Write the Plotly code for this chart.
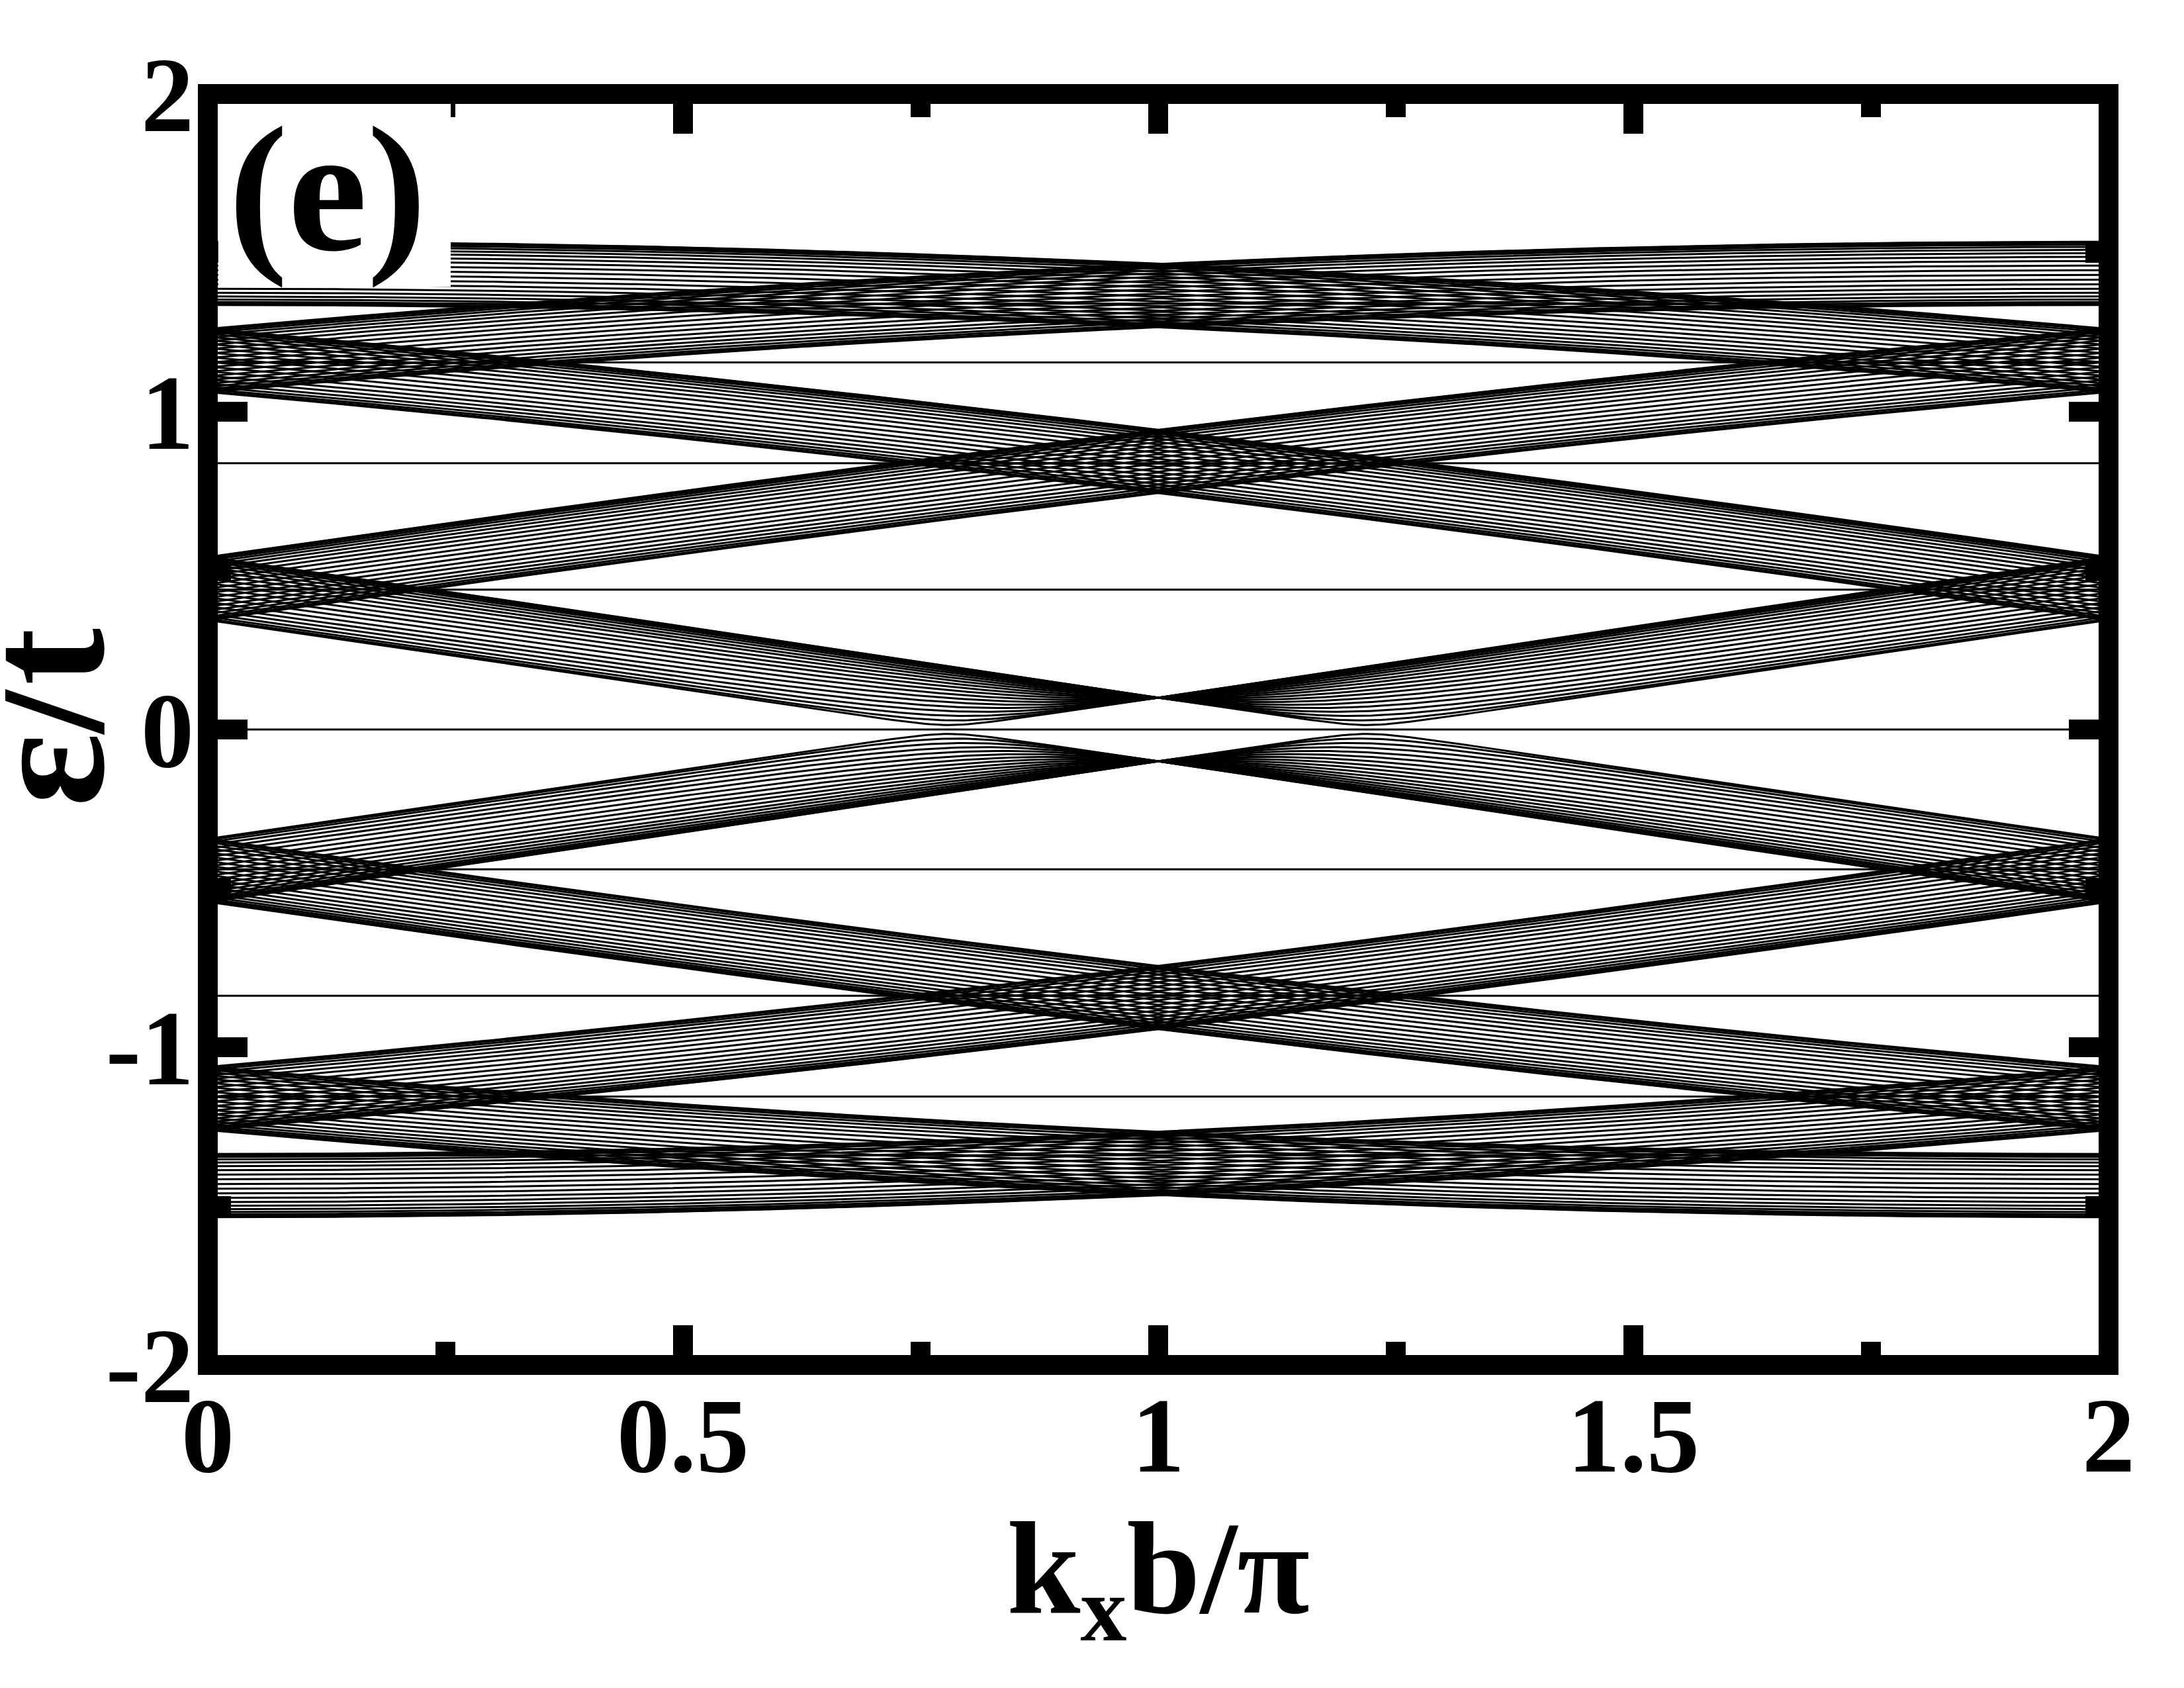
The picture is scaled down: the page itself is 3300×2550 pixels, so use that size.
import numpy as np
import plotly.graph_objects as go

# ---------------- values ----------------
flat_levels = [1.34, 1.155, 0.838, 0.44]          # dispersionless lines at +/- these energies
zero_level = [0.0]                                # dispersionless line at zero energy
band_center_k0 = [1.435, 1.161, 1.161, 0.443, 0.443]   # band centres at k_x b/pi = 0
band_center_k1 = [1.365, 1.365, 0.843, 0.843, 0.0]     # band centres at k_x b/pi = 1
band_halfwidth = [0.10, 0.10, 0.10, 0.10, 0.10]        # half spread of each family of lines
band_line_shift = [0.0, 0.5, 0.0, 0.5, 0.0]            # neighbouring families interleave
band_top_center = 1.435                                 # largest band centre (k_x b/pi = 0)
lines_per_band = 21                                     # lines counted in one family
closest_phase_gap = 0.14                                # lowest line stays ~0.014 above zero

x_tick_vals = [0, 0.5, 1, 1.5, 2]
x_tick_text = ["0", "0.5", "1", "1.5", "2"]
y_tick_vals = [-2, -1, 0, 1, 2]
y_tick_text = ["-2", "-1", "0", "1", "2"]
panel_label = "(e)"
x_title = "k<sub>x</sub>b/π"
y_title = "ε/t"

# ---------------- build the line families ----------------
kk = np.linspace(0.0, 2.0, 401)
kf = np.minimum(kk, 2.0 - kk)          # picture is mirror symmetric about k_x b/pi = 1

xs, ys = [], []
for c0, c1, w, sh in zip(band_center_k0, band_center_k1, band_halfwidth, band_line_shift):
    th0 = np.arccos(np.clip(c0 / band_top_center, -1, 1))
    th1 = np.arccos(np.clip(c1 / band_top_center, -1, 1))
    ec = band_top_center * np.cos(th0 + (th1 - th0) * kf)
    phases = (np.pi - closest_phase_gap) * (np.arange(lines_per_band) + sh) / (lines_per_band - 1 + sh)
    for ph in phases:
        e = np.sqrt(ec ** 2 + w ** 2 + 2 * w * ec * np.cos(ph))
        for sgn in (1, -1):
            xs.extend(kk.tolist() + [None])
            ys.extend((sgn * e).tolist() + [None])

for lev in flat_levels:
    for sgn in (1, -1):
        xs.extend([0.0, 2.0, None])
        ys.extend([sgn * lev, sgn * lev, None])
for lev in zero_level:
    xs.extend([0.0, 2.0, None])
    ys.extend([lev, lev, None])

fig = go.Figure()
fig.add_trace(go.Scatter(x=xs, y=ys, mode="lines",
                         line=dict(color="black", width=3),
                         hoverinfo="skip", showlegend=False))

FONT = "Liberation Serif, Times New Roman, serif"

fig.update_layout(
    width=3300, height=2550, autosize=False,
    margin=dict(l=306, r=122, t=134, b=496, autoexpand=False),
    paper_bgcolor="white", plot_bgcolor="white",
    showlegend=False,
    xaxis=dict(range=[0, 2], tickvals=x_tick_vals, ticktext=x_tick_text,
               automargin=False,
               ticks="inside", ticklen=60, tickwidth=30, tickcolor="black",
               mirror="allticks", showline=False, showgrid=False, zeroline=False,
               minor=dict(dtick=0.25, ticks="inside", ticklen=35, tickwidth=30,
                          tickcolor="black", showgrid=False),
               tickfont=dict(family=FONT, size=160, color="black", weight="bold"),
               ticklabelstandoff=0,
               title=dict(text=x_title, standoff=0,
                          font=dict(family=FONT, size=200, color="black", weight="bold"))),
    yaxis=dict(range=[-2, 2], tickvals=y_tick_vals, ticktext=y_tick_text,
               automargin=False,
               ticks="inside", ticklen=60, tickwidth=30, tickcolor="black",
               mirror="allticks", showline=False, showgrid=False, zeroline=False,
               minor=dict(dtick=0.5, ticks="inside", ticklen=35, tickwidth=30,
                          tickcolor="black", showgrid=False),
               tickfont=dict(family=FONT, size=160, color="black", weight="bold"),
               ticklabelstandoff=20),
    shapes=[
        dict(type="rect", xref="x", yref="y", x0=0.011, x1=0.2556, y0=1.394, y1=2.0,
             fillcolor="white", line=dict(width=0), layer="above"),
        dict(type="rect", xref="paper", yref="paper", x0=0, x1=1, y0=0, y1=1,
             line=dict(color="black", width=30), fillcolor="rgba(0,0,0,0)", layer="above"),
    ],
    annotations=[
        dict(text=panel_label, x=0.126, y=1.70, xref="x", yref="y",
             xanchor="center", yanchor="middle", showarrow=False,
             font=dict(family=FONT, size=270, color="black", weight="bold")),
        dict(text=y_title, x=-0.086, y=0.51, xref="paper", yref="paper",
             xanchor="center", yanchor="middle", textangle=-90, showarrow=False,
             font=dict(family=FONT, size=260, color="black", weight="bold")),
    ],
)

fig.write_html("out.html")
